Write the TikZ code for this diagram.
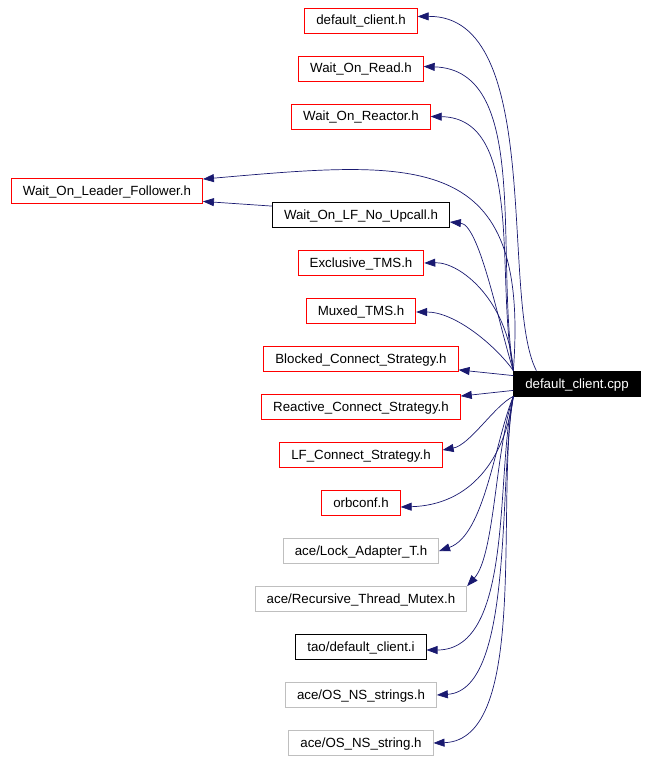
\documentclass[tikz,border=0pt]{standalone}
\usepackage{fontspec}
\setmainfont{Liberation Sans}
\usetikzlibrary{arrows.meta, positioning}
\definecolor{cEdge}{RGB}{25,25,112}
\definecolor{cGrey}{RGB}{191,191,191}
\tikzset{
	hdr/.style ={rectangle, draw=red, line width=0.8pt, minimum height=25pt, inner xsep=11.5pt, inner ysep=0pt, text height=10.5pt, text depth=1.5pt, text centered},
	hdrk/.style={hdr, draw=black},
	hdrg/.style={hdr, draw=cGrey},
	srcf/.style={hdr, draw=black, fill=black, text=white},
	dep/.style ={-{Triangle[length=11pt, width=8pt]}, draw=cEdge, line width=0.7pt},
}
\begin{document}
\begin{tikzpicture}[x=1pt, y=-1pt, font=\fontsize{13.3}{16}\selectfont, node distance=22.2pt]
	\useasboundingbox (0,0) rectangle (647,762);
	% included headers, one column
	\node[hdr] (dclh) at (361,20.5) {default\_client.h};
	\node[hdr, below=of dclh] (wor) {Wait\_On\_Read.h};
	\node[hdr, below=of wor] (wore) {Wait\_On\_Reactor.h};
	\node[hdrk, below=72.7pt of wore] (wnup) {Wait\_On\_LF\_No\_Upcall.h};
	\node[hdr, below=of wnup] (exms) {Exclusive\_TMS.h};
	\node[hdr, below=of exms] (muxms) {Muxed\_TMS.h};
	\node[hdr, below=of muxms] (bcs) {Blocked\_Connect\_Strategy.h};
	\node[hdr, below=of bcs] (rcs) {Reactive\_Connect\_Strategy.h};
	\node[hdr, below=of rcs] (lfcs) {LF\_Connect\_Strategy.h};
	\node[hdr, below=of lfcs] (orbc) {orbconf.h};
	\node[hdrg, below=of orbc] (lockad) {ace/Lock\_Adapter\_T.h};
	\node[hdrg, below=of lockad] (rtm) {ace/Recursive\_Thread\_Mutex.h};
	\node[hdrk, below=of rtm] (dcli) {tao/default\_client.i};
	\node[hdrg, below=of dcli] (nsstrs) {ace/OS\_NS\_strings.h};
	\node[hdrg, below=of nsstrs] (nsstr) {ace/OS\_NS\_string.h};
	\node[hdr] (wolf) at (107,191) {Wait\_On\_Leader\_Follower.h};
	\node[srcf] (cpp) at (577,383.5) {default\_client.cpp};
	% upper edges
	\draw[dep] ([xshift=23pt]cpp.north west) .. controls (500,300) and (545,15) .. ([yshift=4pt]dclh.east);
	\draw[dep] (cpp.north west) .. controls (495,250) and (530,70) .. ([yshift=2pt]wor.east);
	\draw[dep] (cpp.north west) .. controls (495,280) and (525,118) .. (wore.east);
	\draw[dep] (cpp.north west) .. controls (530,150) and (420,160) .. ([yshift=-1pt]wolf.north east);
	\draw[dep] (cpp.north west) .. controls (500,330) and (480,225) .. ([yshift=-7pt]wnup.east);
	\draw[dep] ([yshift=-4pt]wnup.north west) -- ([yshift=2.5pt]wolf.south east);
	\draw[dep] (cpp.north west) .. controls (508,300) and (460,262) .. (exms.east);
	\draw[dep] (cpp.north west) .. controls (495,345) and (455,312) .. ([yshift=-1pt]muxms.east);
	% nearly straight ones
	\draw[dep] ([yshift=-5pt]cpp.north west) -- ([yshift=2pt]bcs.south east);
	\draw[dep] ([yshift=6pt]cpp.south west) -- ([yshift=-2pt]rcs.north east);
	% lower edges
	\draw[dep] (cpp.south west) .. controls (495,405) and (470,445) .. ([yshift=5pt]lfcs.east);
	\draw[dep] (cpp.south west) .. controls (505,460) and (470,505) .. ([yshift=-4pt]orbc.east);
	\draw[dep] (cpp.south west) .. controls (495,440) and (485,535) .. (lockad.east);
	\draw[dep] (cpp.south west) .. controls (495,450) and (495,555) .. (rtm.north east);
	\draw[dep] (cpp.south west) .. controls (495,470) and (515,650) .. ([yshift=-3pt]dcli.east);
	\draw[dep] (cpp.south west) .. controls (498,480) and (515,690) .. (nsstrs.east);
	\draw[dep] (cpp.south west) .. controls (495,500) and (530,740) .. (nsstr.east);
\end{tikzpicture}
\end{document}
